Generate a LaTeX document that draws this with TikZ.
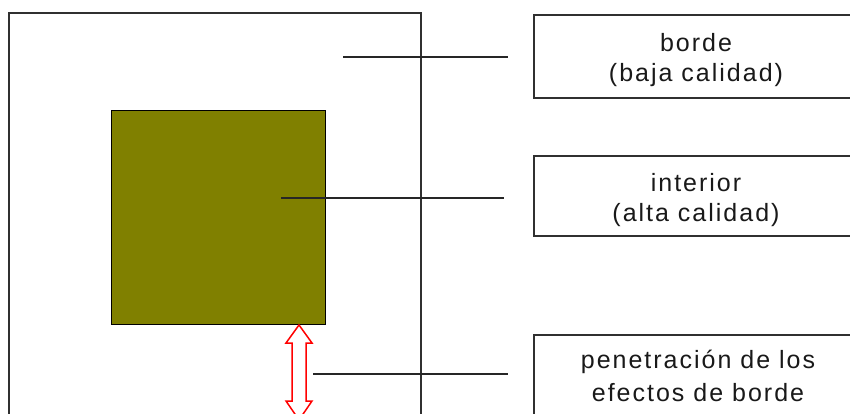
\documentclass[tikz,border=0pt]{standalone}
\usepackage{fontspec}
\setmainfont{Liberation Sans}[LetterSpace=8]
\definecolor{olivefill}{HTML}{808000}
\definecolor{framegray}{HTML}{303030}
\tikzset{
  frame/.style={draw=framegray, line width=1.8pt},
  labelbox/.style={draw=framegray, line width=1.6pt, fill=white},
  leader/.style={draw=black!85, line width=1.4pt},
  labeltext/.style={font=\fontsize{25}{30}\selectfont, text=black!90, align=center, inner sep=0pt, anchor=base},
}
\begin{document}
\begin{tikzpicture}[x=1pt,y=-1pt]
  \useasboundingbox (0,0) rectangle (850,414);
  \clip (0,0) rectangle (850,414);
  \fill[white] (0,0) rectangle (850,414);

  % outer field (border zone) and inner core
  \draw[frame] (9,13) rectangle (421,430);
  \node[draw=black, line width=1.4pt, fill=olivefill, minimum width=214pt, minimum height=214pt, inner sep=0pt, anchor=north west] (core) at (111,110) {};

  % label boxes
  \node[labelbox, minimum width=330pt, minimum height=83pt, anchor=north west] (boxA) at (533,14) {};
  \node[labelbox, minimum width=330pt, minimum height=80pt, anchor=north west] (boxB) at (533,155) {};
  \node[labelbox, minimum width=330pt, minimum height=100pt, anchor=north west] (boxC) at (533,334) {};

  \node[labeltext] (tA1) at (696,52) {borde};
  \node[labeltext] (tA2) at (696,82) {(baja calidad)};
  \node[labeltext] (tB1) at (696,191) {interior};
  \node[labeltext] (tB2) at (696,221) {(alta calidad)};
  \node[labeltext] (tC1) at (698,368) {penetración de los};
  \node[labeltext] (tC2) at (698,401) {efectos de borde};

  % leader lines
  \coordinate (pA) at (343,57);
  \coordinate (qA) at (508,57);
  \coordinate (pB) at (281,198);
  \coordinate (qB) at (504,198);
  \coordinate (pC) at (313,374);
  \coordinate (qC) at (508,374);
  \draw[leader] (pA) -- (qA);
  \draw[leader] (pB) -- (qB);
  \draw[leader] (pC) -- (qC);

  % hollow double arrow showing edge penetration depth
  \draw[red, line width=1.5pt, line join=miter, fill=white]
    (299,325) -- (312,343) -- (306,343) -- (306,401) -- (312,401)
    -- (299,420) -- (286,401) -- (292,401) -- (292,343) -- (286,343) -- cycle;
\end{tikzpicture}
\end{document}
